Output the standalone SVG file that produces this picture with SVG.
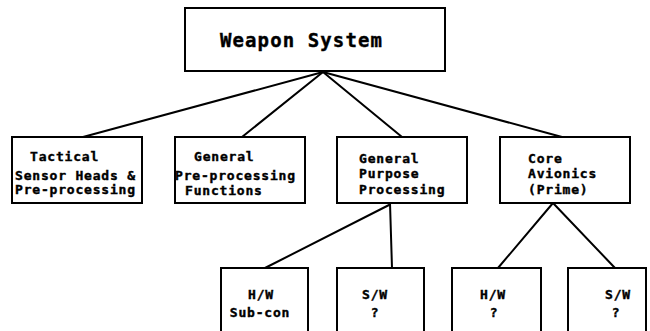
<svg xmlns="http://www.w3.org/2000/svg" width="650" height="331" viewBox="0 0 650 331">
  <style>
    .box { fill: #ffffff; stroke: #000000; stroke-width: 2; }
    .link { stroke: #000000; stroke-width: 2; fill: none; stroke-linecap: round; }
    .lbl { font-family: "DejaVu Sans Mono", "Liberation Mono", monospace; font-weight: bold; font-size: 13px; letter-spacing: 0.8px; fill: #000000; stroke: #000000; stroke-width: 0.4px; }
    .title { font-family: "DejaVu Sans Mono", "Liberation Mono", monospace; font-weight: bold; font-size: 19px; letter-spacing: 1.1px; fill: #000000; stroke: #000000; stroke-width: 0.4px; }
  </style>
  <rect x="0" y="0" width="650" height="331" fill="#ffffff"/>

  <!-- connectors -->
  <g id="connectors">
    <line class="link" x1="323" y1="72" x2="83" y2="137"/>
    <line class="link" x1="323" y1="72" x2="242" y2="137"/>
    <line class="link" x1="323" y1="72" x2="402" y2="137"/>
    <line class="link" x1="323" y1="72" x2="562" y2="137"/>
    <line class="link" x1="390" y1="203" x2="392" y2="268"/>
    <line class="link" x1="389" y1="205" x2="265" y2="268"/>
    <line class="link" x1="553" y1="203" x2="498" y2="268"/>
    <line class="link" x1="553" y1="203" x2="615" y2="268"/>
  </g>

  <!-- top level -->
  <g id="weapon-system">
    <rect class="box" x="185" y="8" width="260" height="63"/>
    <text class="title" x="220" y="47">Weapon System</text>
  </g>

  <!-- second level -->
  <g id="tactical-sensor">
    <rect class="box" x="12" y="137" width="130" height="66"/>
    <text class="lbl" x="30" y="161">Tactical</text>
    <text class="lbl" x="15" y="180">Sensor Heads &amp;</text>
    <text class="lbl" x="15" y="194">Pre-processing</text>
  </g>
  <g id="general-preprocessing">
    <rect class="box" x="175" y="137" width="130" height="66"/>
    <text class="lbl" x="194" y="161">General</text>
    <text class="lbl" x="175" y="180">Pre-processing</text>
    <text class="lbl" x="185" y="195">Functions</text>
  </g>
  <g id="general-purpose">
    <rect class="box" x="337" y="137" width="130" height="66"/>
    <text class="lbl" x="359" y="163">General</text>
    <text class="lbl" x="359" y="178">Purpose</text>
    <text class="lbl" x="359" y="194">Processing</text>
  </g>
  <g id="core-avionics">
    <rect class="box" x="500" y="137" width="130" height="66"/>
    <text class="lbl" x="528" y="163">Core</text>
    <text class="lbl" x="528" y="178">Avionics</text>
    <text class="lbl" x="528" y="194">(Prime)</text>
  </g>

  <!-- third level -->
  <g id="hw-subcon">
    <rect class="box" x="221" y="268" width="87" height="80"/>
    <text class="lbl" x="261" y="299" text-anchor="middle">H/W</text>
    <text class="lbl" x="260" y="317" text-anchor="middle">Sub-con</text>
  </g>
  <g id="sw-gpp">
    <rect class="box" x="337" y="268" width="87" height="80"/>
    <text class="lbl" x="375" y="299" text-anchor="middle">S/W</text>
    <text class="lbl" x="375" y="317" text-anchor="middle">?</text>
  </g>
  <g id="hw-core">
    <rect class="box" x="452" y="268" width="89" height="80"/>
    <text class="lbl" x="493" y="299" text-anchor="middle">H/W</text>
    <text class="lbl" x="494" y="317" text-anchor="middle">?</text>
  </g>
  <g id="sw-core">
    <rect class="box" x="568" y="268" width="78" height="80"/>
    <text class="lbl" x="618" y="299" text-anchor="middle">S/W</text>
    <text class="lbl" x="616" y="317" text-anchor="middle">?</text>
  </g>
</svg>
